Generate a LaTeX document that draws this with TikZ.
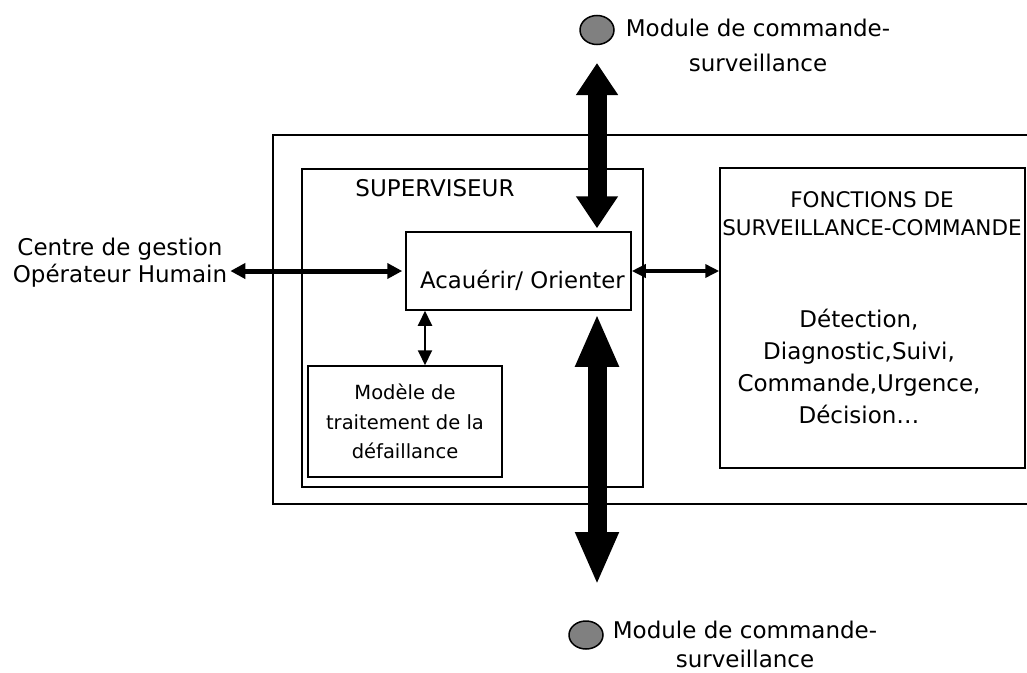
\documentclass[tikz,border=0pt]{standalone}
\usepackage{fontspec}
\setmainfont{DejaVu Sans}
\usetikzlibrary{arrows.meta, shapes.geometric, positioning}

\begin{document}
\begin{tikzpicture}[x=1pt, y=-1pt,
    box/.style={draw=black, line width=1.5pt, rectangle, inner sep=0pt},
    lbl/.style={align=center, inner sep=0pt, font=\fontsize{23}{30}\selectfont},
    dot/.style={draw=black, line width=1.5pt, fill=gray, ellipse, inner sep=0pt, minimum width=34pt, minimum height=29pt},
    bigarrow/.style={line width=19pt, {Triangle[width=40pt, length=#1]}-{Triangle[width=40pt, length=#1]}},
    midarrow/.style={line width=5pt, {Triangle[width=15pt, length=15pt]}-{Triangle[width=15pt, length=15pt]}},
    sidearrow/.style={line width=4pt, {Triangle[width=13pt, length=14pt]}-{Triangle[width=13pt, length=14pt]}},
    smallarrow/.style={line width=2pt, {Triangle[width=14pt, length=15pt]}-{Triangle[width=14pt, length=15pt]}}]
\useasboundingbox (0,0) rectangle (1027,672);

\draw[line width=1.5pt] (1030,135) -- (273,135) -- (273,504) -- (1030,504);

\node[box, minimum width=341pt, minimum height=318pt] (sup) at (472.5,328) {};
\node[lbl] (suptxt) at (435,188) {SUPERVISEUR};

\node[box, minimum width=225pt, minimum height=78pt] (acq) at (518.5,271) {};
\node[lbl, font=\fontsize{22.8}{30}\selectfont] (acqtxt) at ([xshift=4pt, yshift=-9pt]acq.center) {Acauérir/ Orienter};

\node[box, minimum width=194pt, minimum height=111pt, font=\fontsize{19.5}{29.5}\selectfont, align=center] (mod) at (405,421.5) {Modèle de\\traitement de la\\défaillance};

\node[box, minimum width=305pt, minimum height=300pt] (fct) at (872.5,318) {};
\node[lbl, font=\fontsize{21.5}{28}\selectfont] (fcthead) at (872,214) {FONCTIONS DE\\SURVEILLANCE-COMMANDE};
\node[lbl, font=\fontsize{23}{32.3}\selectfont] (fctbody) at (859,366.5) {Détection,\\Diagnostic,Suivi,\\Commande,Urgence,\\Décision\dots};

\node[lbl, font=\fontsize{23}{27}\selectfont] (centre) at (120,263) {Centre de gestion\\Opérateur Humain};

\node[dot] (dottop) at (597,30) {};
\node[lbl, font=\fontsize{23}{35}\selectfont] (modtop) at (758,45.5) {Module de commande-\\surveillance};
\node[dot, minimum height=28pt] (dotbot) at (586,635) {};
\node[lbl, font=\fontsize{23}{29}\selectfont] (modbot) at (745,644) {Module de commande-\\surveillance};

\coordinate (topend) at (597,63);
\coordinate (botend) at (597,585);
\coordinate (link) at (425,0);

\draw[bigarrow=32pt, shorten >=3pt] (topend) -- (topend |- acq.north);
\draw[bigarrow=53pt, shorten >=3pt] (botend) -- (botend |- acq.south);
\draw[midarrow, shorten >=3pt] ([xshift=3pt]centre.east |- acq.west) -- (acq.west);
\draw[sidearrow] (acq.east) -- (acq.east -| fct.west);
\draw[smallarrow] (acq.south -| link) -- (mod.north -| link);

\end{tikzpicture}
\end{document}
